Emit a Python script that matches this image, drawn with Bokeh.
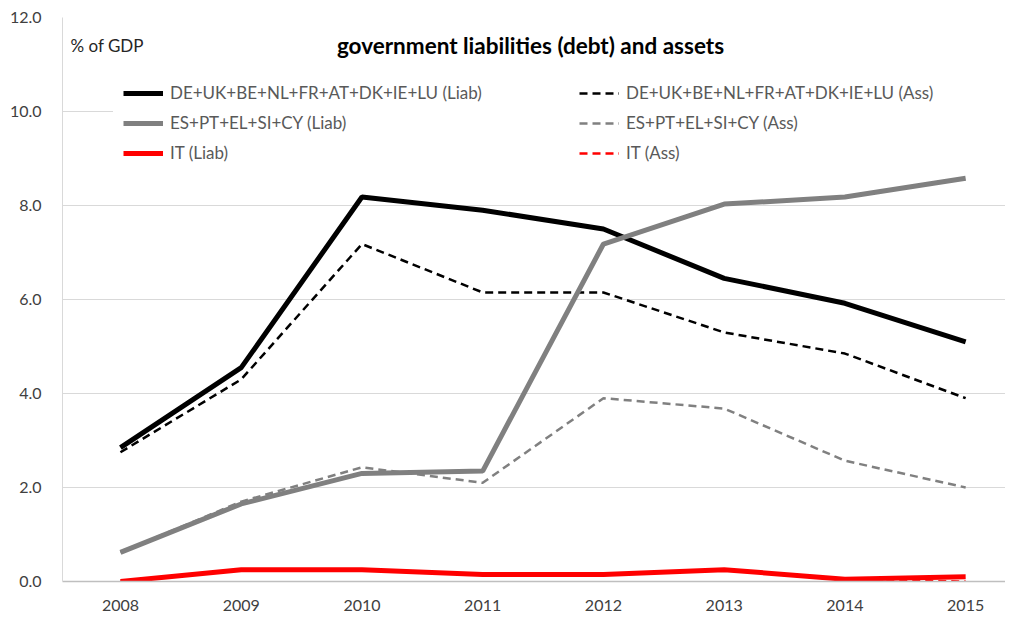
from bokeh.plotting import figure
from bokeh.models import Range1d, FixedTicker, PrintfTickFormatter, Legend, LegendItem, Label
from bokeh.embed import file_html
from bokeh.resources import INLINE

years = [2008, 2009, 2010, 2011, 2012, 2013, 2014, 2015]
year_labels = ["2008", "2009", "2010", "2011", "2012", "2013", "2014", "2015"]
y_ticks = [0, 2, 4, 6, 8, 10, 12]

north_liab = [2.85, 4.55, 8.18, 7.90, 7.50, 6.45, 5.92, 5.10]
south_liab = [0.62, 1.65, 2.30, 2.35, 7.18, 8.03, 8.18, 8.58]
it_liab = [0.00, 0.25, 0.25, 0.15, 0.15, 0.25, 0.05, 0.10]
north_ass = [2.75, 4.30, 7.18, 6.15, 6.15, 5.30, 4.85, 3.90]
south_ass = [0.62, 1.70, 2.43, 2.10, 3.90, 3.68, 2.57, 2.00]
it_ass = [0.00, 0.25, 0.25, 0.15, 0.15, 0.25, 0.03, 0.00]

names = ["DE+UK+BE+NL+FR+AT+DK+IE+LU (Liab)", "ES+PT+EL+SI+CY (Liab)", "IT (Liab)",
         "DE+UK+BE+NL+FR+AT+DK+IE+LU (Ass)", "ES+PT+EL+SI+CY (Ass)", "IT (Ass)"]

FONT = "Lato"

p = figure(width=1005, height=616, output_backend="svg", toolbar_location=None,
           x_range=Range1d(2007.52, 2015.33), y_range=Range1d(0, 12),
           min_border_left=62, min_border_right=0, min_border_top=17, min_border_bottom=35)
p.outline_line_color = None
p.background_fill_color = "white"

# grid
p.xgrid.grid_line_color = None
p.ygrid.ticker = FixedTicker(ticks=y_ticks)
p.ygrid.grid_line_color = "#d9d9d9"
p.ygrid.grid_line_width = 1

# y axis
p.yaxis.ticker = FixedTicker(ticks=y_ticks)
p.yaxis.formatter = PrintfTickFormatter(format="%.1f")
p.yaxis.axis_line_color = "#d9d9d9"
p.yaxis.major_tick_line_color = None
p.yaxis.minor_tick_line_color = None
p.yaxis.major_label_text_font = FONT
p.yaxis.major_label_text_font_size = "16px"
p.yaxis.major_label_text_color = "#404040"
p.yaxis.major_label_standoff = 15

# x axis
p.xaxis.ticker = FixedTicker(ticks=years)
p.xaxis.major_label_overrides = {y: l for y, l in zip(years, year_labels)}
p.xaxis.axis_line_color = "#bfbfbf"
p.xaxis.axis_line_width = 1.5
p.xaxis.major_tick_line_color = None
p.xaxis.minor_tick_line_color = None
p.xaxis.major_label_text_font = FONT
p.xaxis.major_label_text_font_size = "16px"
p.xaxis.major_label_text_color = "#404040"
p.xaxis.major_label_standoff = 12

series = [
    (north_liab, "black", 5, "solid"),
    (south_liab, "#808080", 5, "solid"),
    (it_liab, "#ff0000", 5, "solid"),
    (north_ass, "black", 2.5, "8 5"),
    (south_ass, "#808080", 2.5, "8 5"),
    (it_ass, "#ff0000", 2.5, "8 5"),
]
draw_order = [3, 4, 0, 1, 5, 2]
renderers = {}
for i in draw_order:
    vals, col, w, dash = series[i]
    renderers[i] = p.line(years, vals, line_color=col, line_width=w, line_dash=dash)

items = [LegendItem(label=names[i], renderers=[renderers[i]]) for i in range(6)]
legend = Legend(items=items, location=(51, 408), orientation="vertical", nrows=3,
                glyph_width=40, glyph_height=20, label_height=20, label_width=400,
                label_standoff=7, spacing=9, padding=10, margin=0,
                label_text_font=FONT, label_text_font_size="17px",
                label_text_color="#595959", border_line_alpha=0,
                background_fill_color="white", background_fill_alpha=1.0)
p.add_layout(legend, "center")

p.add_layout(Label(x=468, y=536, x_units="screen", y_units="screen",
                   text="government liabilities (debt) and assets",
                   text_font=FONT, text_font_size="22.5px", text_font_style="bold",
                   text_color="black", text_align="center", text_baseline="middle"))
p.add_layout(Label(x=8, y=536, x_units="screen", y_units="screen",
                   text="% of GDP", text_font=FONT, text_font_size="17px",
                   text_color="#262626", text_align="left", text_baseline="middle"))

open("out.html", "w").write(file_html(p, INLINE))
